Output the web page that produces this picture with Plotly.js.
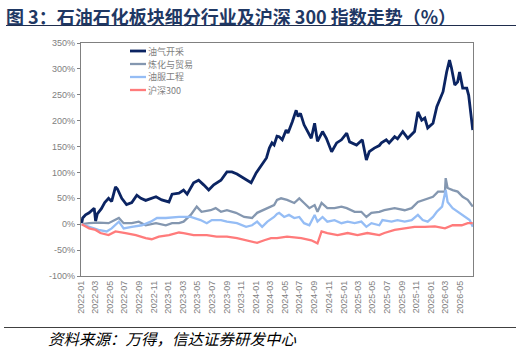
<!DOCTYPE html>
<html>
<head>
<meta charset="utf-8">
<script src="https://cdn.plot.ly/plotly-3.0.1.min.js"></script>
<style>html,body{margin:0;padding:0;background:#fff;}#chart{width:522px;height:352px;}</style>
</head>
<body>
<div id="chart"></div>
<script>
// ---------- data ----------
const seriesNames = ['油气开采', '炼化与贸易', '油服工程', '沪深300'];

const oilDates = ['2022-01-04','2022-01-08','2022-01-20','2022-02-04','2022-02-25','2022-03-03','2022-03-10','2022-03-27','2022-04-10','2022-04-26','2022-05-09','2022-05-25','2022-06-02','2022-06-20','2022-07-10','2022-08-01','2022-08-22','2022-09-08','2022-09-28','2022-11-10','2022-12-04','2023-01-03','2023-01-16','2023-02-14','2023-03-05','2023-03-20','2023-04-16','2023-05-07','2023-05-28','2023-06-18','2023-07-09','2023-08-08','2023-09-02','2023-09-23','2023-10-14','2023-11-13','2023-12-12','2024-01-02','2024-01-23','2024-02-14','2024-02-26','2024-03-08','2024-03-17','2024-03-29','2024-04-07','2024-04-20','2024-05-06','2024-05-14','2024-06-01','2024-06-17','2024-06-25','2024-07-05','2024-07-20','2024-08-03','2024-08-19','2024-09-02','2024-09-14','2024-10-05','2024-10-21','2024-11-12','2024-12-03','2024-12-23','2025-01-14','2025-01-26','2025-02-24','2025-03-20','2025-04-06','2025-04-18','2025-05-09','2025-05-30','2025-06-08','2025-06-28','2025-07-10','2025-08-02','2025-08-14','2025-09-05','2025-09-26','2025-10-24','2025-11-07','2025-11-23','2025-12-06','2025-12-18','2026-01-09','2026-01-25','2026-02-07','2026-02-20','2026-03-07','2026-03-19','2026-03-27','2026-04-10','2026-04-22','2026-04-30','2026-05-13','2026-05-30','2026-06-07','2026-06-20','2026-06-24'];
const oilValues = [2,12,18,22,31,6,20,30,42,50,44,72,68,50,38,42,56,50,46,53,47,43,58,60,66,58,80,85,76,66,76,85,101,101,97,89,80,99,114,128,147,157,153,170,169,163,182,176,198,220,208,214,192,179,166,195,160,179,166,140,157,163,176,159,153,163,124,140,147,152,157,163,157,169,165,179,166,179,217,201,205,186,195,227,243,256,294,317,302,269,275,294,263,263,249,198,182];

const refDates = ['2022-01-04','2022-02-04','2022-03-15','2022-04-26','2022-06-08','2022-06-28','2022-08-01','2022-08-30','2022-09-28','2022-11-10','2022-12-21','2023-01-16','2023-02-14','2023-03-05','2023-04-04','2023-04-29','2023-05-19','2023-06-26','2023-07-17','2023-08-08','2023-09-02','2023-10-10','2023-11-13','2023-12-16','2024-01-06','2024-01-27','2024-02-18','2024-03-17','2024-03-29','2024-04-15','2024-05-10','2024-06-09','2024-06-30','2024-07-20','2024-08-11','2024-09-02','2024-09-14','2024-10-01','2024-10-25','2024-11-24','2024-12-23','2025-01-14','2025-02-16','2025-03-16','2025-04-06','2025-04-27','2025-05-30','2025-06-20','2025-08-02','2025-09-13','2025-10-12','2025-11-07','2025-12-06','2026-01-09','2026-01-30','2026-02-28','2026-03-03','2026-03-11','2026-04-01','2026-04-22','2026-05-13','2026-06-03','2026-06-24'];
const refValues = [0,2,3,2,12,2,2,5,-2,2,-2,2,2,5,18,34,24,27,31,24,27,22,14,12,22,27,31,37,47,50,47,41,50,41,31,37,24,41,31,31,34,31,24,24,14,22,24,27,31,27,31,43,47,53,63,63,89,70,66,63,53,47,34];

const svcDates = ['2022-01-04','2022-02-04','2022-03-15','2022-04-18','2022-05-09','2022-06-08','2022-06-28','2022-08-01','2022-09-12','2022-10-19','2022-11-14','2022-12-21','2023-02-14','2023-04-04','2023-04-16','2023-05-15','2023-06-10','2023-07-01','2023-08-08','2023-09-02','2023-10-14','2023-11-21','2023-12-16','2024-01-06','2024-01-27','2024-02-18','2024-03-17','2024-03-29','2024-04-07','2024-04-28','2024-05-18','2024-06-09','2024-06-30','2024-07-20','2024-08-11','2024-09-02','2024-09-14','2024-10-05','2024-10-25','2024-11-24','2024-12-23','2025-01-18','2025-02-16','2025-03-16','2025-04-06','2025-04-27','2025-05-30','2025-06-12','2025-07-20','2025-08-14','2025-09-13','2025-10-12','2025-11-07','2025-11-27','2025-12-18','2026-01-09','2026-01-25','2026-02-16','2026-03-03','2026-03-11','2026-04-01','2026-04-30','2026-05-21','2026-06-11','2026-06-24'];
const svcValues = [0,-5,-11,-14,-8,5,-8,-5,-2,5,12,12,14,14,12,8,2,8,8,5,2,-5,-2,5,-5,5,14,20,22,14,18,12,14,2,-2,18,5,14,5,8,2,5,2,5,-5,2,-2,8,5,8,5,8,18,8,5,14,24,34,66,43,31,22,14,8,-5];

const hsDates = ['2022-01-04','2022-02-04','2022-03-03','2022-03-23','2022-04-26','2022-05-25','2022-07-06','2022-08-18','2022-09-28','2022-10-23','2022-11-22','2023-01-03','2023-02-14','2023-03-05','2023-04-16','2023-06-10','2023-07-21','2023-09-02','2023-10-14','2023-11-25','2024-01-06','2024-02-05','2024-03-04','2024-03-29','2024-05-10','2024-07-08','2024-08-19','2024-09-14','2024-10-01','2024-10-25','2024-12-07','2025-01-18','2025-02-28','2025-04-10','2025-05-30','2025-06-20','2025-08-02','2025-09-13','2025-10-24','2025-12-06','2026-01-17','2026-02-28','2026-04-01','2026-05-09','2026-06-03','2026-06-24'];
const hsValues = [0,-8,-11,-17,-21,-14,-17,-21,-27,-29,-24,-21,-16,-17,-21,-21,-24,-24,-27,-31,-36,-31,-27,-27,-24,-27,-31,-37,-14,-17,-21,-17,-21,-17,-21,-17,-11,-8,-5,-5,-4,-8,-2,-2,2,2];

const yTickVals = [-100,-50,0,50,100,150,200,250,300,350];
const yTickText = ['-100%','-50%','0%','50%','100%','150%','200%','250%','300%','350%'];

// ---------- styling ----------
const colors = ['#0b2462', '#8497b0', '#95bdf5', '#ff7b7b'];
const widths = [2.8, 2.3, 2.3, 2.3];
const xs = [oilDates, refDates, svcDates, hsDates];
const ys = [oilValues, refValues, svcValues, hsValues];

const L = 81, R = 473, T = 43, B = 276;
const px = v => (v - L) / (R - L);
const py = v => (B - v) / (B - T);

const traces = seriesNames.map((n, i) => ({
  type: 'scatter', mode: 'lines', name: n,
  x: xs[i], y: ys[i], xaxis: 'x', yaxis: 'y',
  line: {color: colors[i], width: widths[i]},
  showlegend: false, hoverinfo: 'skip'
}));

const shapes = [
  {type: 'line', xref: 'paper', yref: 'paper', x0: px(6), x1: px(516), y0: py(25.5), y1: py(25.5), line: {color: '#1f2d4d', width: 1}},
  {type: 'line', xref: 'paper', yref: 'paper', x0: px(4), x1: px(516), y0: py(327.5), y1: py(327.5), line: {color: '#404040', width: 1}}
];
const annotations = [
  {xref: 'paper', yref: 'paper', x: px(4), y: py(16), xanchor: 'left', yanchor: 'middle', showarrow: false,
   text: '<b>图 3：石油石化板块细分行业及沪深 300 指数走势（%）</b>',
   font: {family: '"Noto Sans CJK SC", sans-serif', size: 18, color: '#1f3864'}},
  {xref: 'paper', yref: 'paper', x: px(46), y: py(338), xanchor: 'left', yanchor: 'middle', showarrow: false,
   text: '<i>资料来源：万得，信达证券研发中心</i>',
   font: {family: '"Noto Sans CJK SC", sans-serif', size: 15.5, color: '#000000'}}
];
const legY = [51, 64, 77, 90];
seriesNames.forEach((n, i) => {
  shapes.push({type: 'line', xref: 'paper', yref: 'paper', x0: px(130), x1: px(146), y0: py(legY[i]), y1: py(legY[i]),
    line: {color: colors[i], width: widths[i]}});
  annotations.push({xref: 'paper', yref: 'paper', x: px(146), y: py(legY[i]), xanchor: 'left', yanchor: 'middle',
    showarrow: false, text: n, font: {family: '"Noto Sans CJK SC", sans-serif', size: 9, color: '#7f7f7f'}});
});

const xRange = ['2022-01-01', '2026-06-25'];
const layout = {
  width: 522, height: 352,
  margin: {l: L, r: 522 - R, t: T, b: 352 - B, pad: 0},
  paper_bgcolor: '#ffffff', plot_bgcolor: '#ffffff',
  showlegend: false,
  xaxis: {
    type: 'date', range: xRange, tick0: '2022-01-01', dtick: 'M2', tickformat: '%Y-%m',
    tickangle: -90, ticks: '', showgrid: false, zeroline: false,
    showline: true, linecolor: '#808080', linewidth: 1.2, mirror: true,
    tickfont: {family: 'Liberation Sans, Arial, sans-serif', size: 9, color: '#808080'}
  },
  xaxis2: {
    type: 'date', range: xRange, tick0: '2022-01-01', dtick: 'M2', overlaying: 'x',
    anchor: 'free', position: 100 / 450, side: 'bottom',
    ticks: 'outside', ticklen: 3, tickcolor: '#000000', tickwidth: 1,
    showticklabels: false, showgrid: false, zeroline: false,
    showline: true, linecolor: '#000000', linewidth: 1
  },
  yaxis: {
    range: [-100, 350], tickmode: 'array', tickvals: yTickVals, ticktext: yTickText,
    ticks: 'outside', ticklen: 3, tickcolor: '#808080',
    showgrid: false, zeroline: false,
    showline: true, linecolor: '#808080', linewidth: 1.2, mirror: true,
    tickfont: {family: 'Liberation Sans, Arial, sans-serif', size: 9, color: '#808080'}
  },
  shapes: shapes,
  annotations: annotations
};

Plotly.newPlot('chart', traces, layout, {staticPlot: true, displayModeBar: false});
</script>
</body>
</html>
